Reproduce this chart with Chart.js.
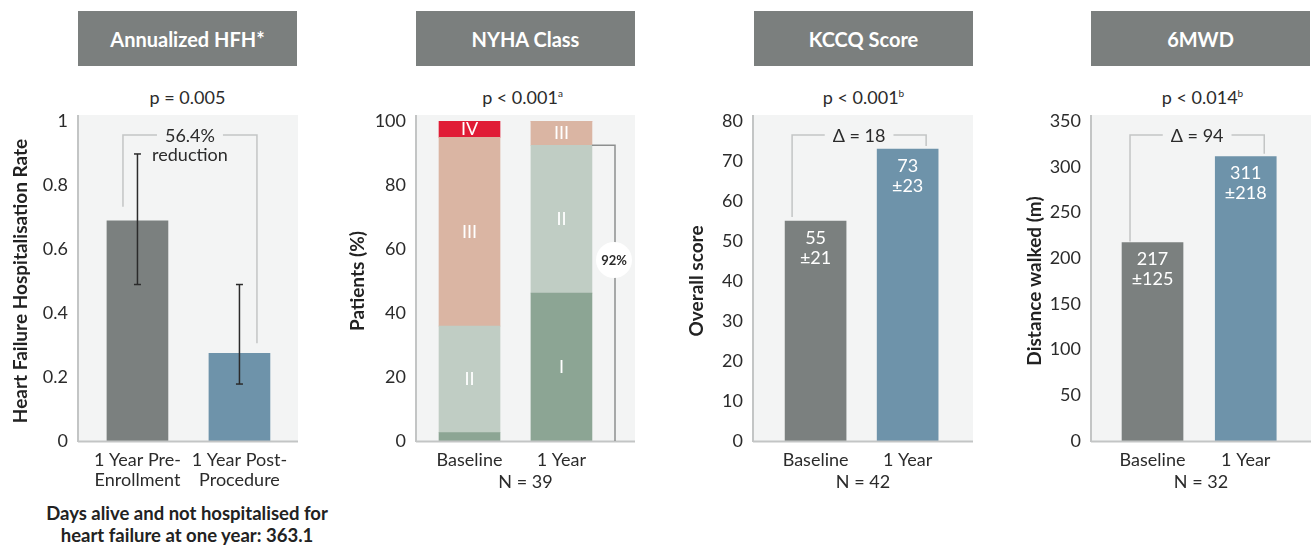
<!DOCTYPE html>
<html>
<head>
<meta charset="utf-8">
<script src="https://cdn.jsdelivr.net/npm/chart.js@4"></script>
<style>
  body { margin: 0; width: 1316px; height: 547px; background: #fff; position: relative; overflow: hidden;
         font-family: Lato, sans-serif; color: #2b2b2b; }
  .head { position: absolute; top: 11px; height: 55px; width: 219px; background: #7b7f7e; color: #fff;
          font-weight: bold; font-size: 20px; display: flex; align-items: center; justify-content: center; }
  .pval { position: absolute; top: 86px; width: 219px; text-align: center; font-size: 18px; line-height: 22px; }
  .pval sup { font-size: 10px; vertical-align: 7px; line-height: 0; }
  .foot { position: absolute; left: 17px; top: 502px; width: 340px; text-align: center; font-size: 18.5px;
          font-weight: bold; line-height: 22px; color: #222; }
  canvas { position: absolute; top: 100px; }
</style>
</head>
<body>
<div class="head" style="left:78px">Annualized HFH*</div>
<div class="head" style="left:416px">NYHA Class</div>
<div class="head" style="left:754px">KCCQ Score</div>
<div class="head" style="left:1091px">6MWD</div>

<div class="pval" style="left:78px">p = 0.005</div>
<div class="pval" style="left:413px">p &lt; 0.001<sup>a</sup></div>
<div class="pval" style="left:754px">p &lt; 0.001<sup>b</sup></div>
<div class="pval" style="left:1093px">p &lt; 0.014<sup>b</sup></div>

<div class="foot">Days alive and not hospitalised for<br>heart failure at one year: 363.1</div>

<script>
// Annualized HFH
const hfhLabels = [['1 Year Pre-', 'Enrollment'], ['1 Year Post-', 'Procedure']];
const hfhRate = [0.688, 0.274];
const hfhErrLow = [0.489, 0.178];
const hfhErrHigh = [0.897, 0.489];

// NYHA class (% of patients), N = 39
const nyhaLabels = ['Baseline', '1 Year'];
const nyhaClasses = ['I', 'II', 'III', 'IV'];
const nyhaI = [2.6, 46.2];
const nyhaII = [33.3, 46.2];
const nyhaIII = [59.0, 7.6];
const nyhaIV = [5.1, 0];

// KCCQ overall score, N = 42
const kccqLabels = ['Baseline', '1 Year'];
const kccqMean = [55, 73];
const kccqSd = [21, 23];

// 6 minute walk distance, N = 32
const mwdLabels = ['Baseline', '1 Year'];
const mwdMean = [217, 311];
const mwdSd = [125, 218];

const GRAY = '#7b807f', BLUE = '#6e93aa';
const nyhaColors = ['#8ca594', '#c0cdc4', '#dab5a3', '#e01c36'];

Chart.defaults.font.family = 'Lato, sans-serif';
Chart.defaults.color = '#2b2b2b';

const pos = [1, 2];
const pts = vals => vals.map((v, i) => ({ x: pos[i], y: v }));

function line(ctx, x1, y1, x2, y2) {
  ctx.beginPath(); ctx.moveTo(x1, y1); ctx.lineTo(x2, y2); ctx.stroke();
}

// bracket with a gap for the first text line
function bracket(ctx, xl, yl, xr, yr, top, lines) {
  ctx.save();
  ctx.font = '18px Lato, sans-serif';
  const mid = (xl + xr) / 2;
  const half = ctx.measureText(lines[0]).width / 2 + 8;
  ctx.strokeStyle = '#c3c5c5';
  ctx.lineWidth = 1.5;
  ctx.beginPath();
  ctx.moveTo(xl, yl); ctx.lineTo(xl, top); ctx.lineTo(mid - half, top);
  ctx.moveTo(mid + half, top); ctx.lineTo(xr, top); ctx.lineTo(xr, yr);
  ctx.stroke();
  ctx.fillStyle = '#2b2b2b';
  ctx.textAlign = 'center';
  ctx.textBaseline = 'middle';
  lines.forEach((t, i) => ctx.fillText(t, mid, top + 1 + i * 19));
  ctx.restore();
}

function barText(ctx, bars, top, bottom) {
  ctx.save();
  ctx.font = '18px Lato, sans-serif';
  ctx.fillStyle = '#fff';
  ctx.textAlign = 'center';
  ctx.textBaseline = 'middle';
  bars.forEach((b, i) => {
    ctx.fillText(top[i], b.x, b.y + 17);
    ctx.fillText(bottom[i], b.x, b.y + 37);
  });
  ctx.restore();
}

function panel(o) {
  const cv = document.createElement('canvas');
  cv.width = o.plotRight + 4 - o.left;
  cv.height = 393;
  cv.style.left = o.left + 'px';
  document.body.appendChild(cv);
  return new Chart(cv, {
    type: 'bar',
    data: { datasets: o.datasets },
    options: {
      responsive: false,
      animation: false,
      layout: { padding: { top: 21, right: 4 } },
      plugins: { legend: { display: false }, tooltip: { enabled: false } },
      datasets: { bar: { barThickness: 61 } },
      scales: {
        x: {
          type: 'linear', min: o.xMin, max: o.xMax, offset: false, stacked: !!o.stacked,
          grid: { display: false, drawTicks: false }, border: { display: false },
          afterBuildTicks: s => { s.ticks = pos.map(v => ({ value: v })); },
          afterFit: s => { s.height = 52; },
          ticks: { padding: 9, font: { size: 18, lineHeight: 1.1 }, callback: (v, i) => o.xLabels[i] },
          title: { display: !!o.nLabel, text: o.nLabel, font: { size: 18 }, padding: 0 }
        },
        y: {
          min: 0, max: o.yMax, stacked: !!o.stacked,
          grid: { display: false, drawTicks: false }, border: { display: false },
          afterFit: s => { s.width = o.plotLeft - o.left; },
          ticks: { stepSize: o.yStep, padding: 10, font: { size: 18 }, callback: v => String(+v.toFixed(2)) },
          title: { display: true, text: o.yTitle, color: '#222', font: { size: 19, weight: 'bold' }, padding: 0 }
        }
      }
    },
    plugins: [{
      id: 'deco',
      beforeDatasetsDraw(c) {
        const { ctx, chartArea: a } = c;
        ctx.save();
        ctx.fillStyle = '#f3f4f4';
        ctx.fillRect(a.left, a.top - 6, a.right - a.left, a.bottom - a.top + 6);
        ctx.restore();
      },
      afterDatasetsDraw(c) {
        const { ctx, chartArea: a } = c;
        ctx.save();
        ctx.strokeStyle = '#c3c5c5';
        ctx.lineWidth = 2;
        line(ctx, a.left, a.top - 6, a.left, a.bottom + 1);
        line(ctx, a.left, a.bottom + 0.5, a.right, a.bottom + 0.5);
        ctx.restore();
        if (o.deco) o.deco(c);
      }
    }]
  });
}

// Annualized HFH
panel({
  left: 9, plotLeft: 78, plotRight: 298, xMin: 0.417, xMax: 2.574,
  yMax: 1, yStep: 0.2, yTitle: 'Heart Failure Hospitalisation Rate', xLabels: hfhLabels,
  datasets: [{ data: pts(hfhRate), backgroundColor: [GRAY, BLUE] }],
  deco(c) {
    const ctx = c.ctx, y = c.scales.y, bars = c.getDatasetMeta(0).data;
    ctx.save();
    ctx.strokeStyle = '#2b2b2b';
    ctx.lineWidth = 1.5;
    bars.forEach((b, i) => {
      const yl = y.getPixelForValue(hfhErrLow[i]), yh = y.getPixelForValue(hfhErrHigh[i]);
      line(ctx, b.x, yl, b.x, yh);
      line(ctx, b.x - 3.5, yl, b.x + 3.5, yl);
      line(ctx, b.x - 3.5, yh, b.x + 3.5, yh);
    });
    ctx.restore();
    bracket(ctx, bars[0].x - 14.5, bars[0].y - 14, bars[1].x + 17.5, bars[1].y - 10,
            c.chartArea.top + 14, ['56.4%', 'reduction']);
  }
});

// NYHA class
const nyhaSets = [nyhaI, nyhaII, nyhaIII, nyhaIV];
panel({
  left: 346, plotLeft: 416, plotRight: 635, xMin: 0.418, xMax: 2.8, stacked: true,
  yMax: 100, yStep: 20, yTitle: 'Patients (%)', xLabels: nyhaLabels, nLabel: 'N = 39',
  datasets: nyhaSets.map((d, k) => ({ data: pts(d), backgroundColor: nyhaColors[k] })),
  deco(c) {
    const ctx = c.ctx, y = c.scales.y, a = c.chartArea;
    ctx.save();
    ctx.font = '18px Lato, sans-serif';
    ctx.fillStyle = '#fff';
    ctx.textAlign = 'center';
    ctx.textBaseline = 'middle';
    nyhaSets.forEach((d, k) => {
      c.getDatasetMeta(k).data.forEach((b, i) => {
        if (d[i] >= 4) ctx.fillText(nyhaClasses[k], b.x, (b.y + b.base) / 2);
      });
    });
    // I + II at one year
    const share = nyhaI[1] + nyhaII[1];
    const b = c.getDatasetMeta(1).data[1];
    const xr = a.right - 20, yt = y.getPixelForValue(share);
    ctx.strokeStyle = '#8d8f8f';
    ctx.lineWidth = 1.5;
    ctx.beginPath();
    ctx.moveTo(b.x + 30.5, yt); ctx.lineTo(xr, yt); ctx.lineTo(xr, y.getPixelForValue(0));
    ctx.stroke();
    const cy = a.top + 139;
    ctx.fillStyle = '#fff';
    ctx.beginPath(); ctx.arc(xr - 1, cy, 18, 0, Math.PI * 2); ctx.fill();
    ctx.fillStyle = '#2b2b2b';
    ctx.font = 'bold 13px Lato, sans-serif';
    ctx.fillText(Math.round(share) + '%', xr - 1, cy + 1);
    ctx.restore();
  }
});

// KCCQ
panel({
  left: 685, plotLeft: 753, plotRight: 973, xMin: 0.32, xMax: 2.71,
  yMax: 80, yStep: 10, yTitle: 'Overall score', xLabels: kccqLabels, nLabel: 'N = 42',
  datasets: [{ data: pts(kccqMean), backgroundColor: [GRAY, BLUE] }],
  deco(c) {
    const bars = c.getDatasetMeta(0).data;
    barText(c.ctx, bars, kccqMean, kccqSd.map(s => '±' + s));
    bracket(c.ctx, bars[0].x - 23.5, bars[0].y - 4, bars[1].x + 18.5, bars[1].y - 3,
            c.chartArea.top + 14, ['Δ = ' + (kccqMean[1] - kccqMean[0])]);
  }
});

// 6MWD
panel({
  left: 1023, plotLeft: 1091, plotRight: 1311, xMin: 0.34, xMax: 2.70,
  yMax: 350, yStep: 50, yTitle: 'Distance walked (m)', xLabels: mwdLabels, nLabel: 'N = 32',
  datasets: [{ data: pts(mwdMean), backgroundColor: [GRAY, BLUE] }],
  deco(c) {
    const bars = c.getDatasetMeta(0).data;
    barText(c.ctx, bars, mwdMean, mwdSd.map(s => '±' + s));
    bracket(c.ctx, bars[0].x - 22.5, bars[0].y - 1, bars[1].x + 18.5, bars[1].y - 3,
            c.chartArea.top + 14, ['Δ = ' + (mwdMean[1] - mwdMean[0])]);
  }
});
</script>
</body>
</html>
